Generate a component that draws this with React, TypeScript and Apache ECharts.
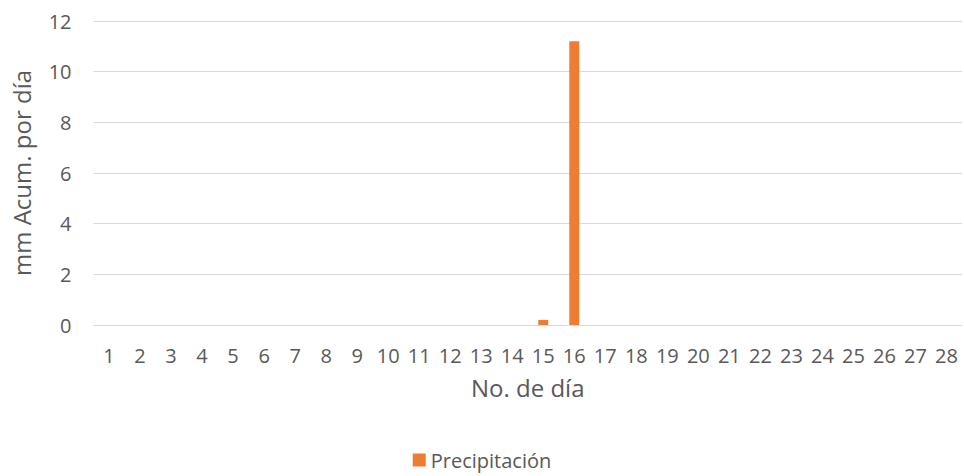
import React, { useEffect, useRef } from "react";
import * as echarts from "echarts";

const days: string[] = Array.from({ length: 28 }, (_, i) => String(i + 1));
const precipitacion: number[] = [
  0, 0, 0, 0, 0, 0, 0, 0, 0, 0, 0, 0, 0, 0, 0.2, 11.2, 0, 0, 0, 0, 0, 0, 0, 0, 0, 0, 0, 0,
];
const seriesName = "Precipitación";
const xAxisTitle = "No. de día";
const yAxisTitle = "mm Acum. por día";

const FONT = "'Open Sans', sans-serif";
const TEXT = "#595959";

export default function App() {
  const ref = useRef<HTMLDivElement>(null);
  useEffect(() => {
    if (!ref.current) return;
    const chart = echarts.init(ref.current, undefined, { renderer: "svg" });
    chart.setOption({
      animation: false,
      textStyle: { fontFamily: FONT },
      grid: { left: 93.5, right: 2, top: 21, bottom: 151, containLabel: false },
      legend: {
        data: [seriesName],
        top: 449,
        padding: 0,
        left: "center",
        itemWidth: 13,
        itemHeight: 13,
        itemGap: 6,
        icon: "rect",
        textStyle: { color: TEXT, fontSize: 20, fontFamily: FONT, lineHeight: 22 },
      },
      xAxis: {
        type: "category",
        data: days,
        name: xAxisTitle,
        nameLocation: "middle",
        nameGap: 50,
        nameTextStyle: { color: TEXT, fontSize: 24, fontFamily: FONT },
        axisLine: { show: true, lineStyle: { color: "#D9D9D9", width: 1 } },
        axisTick: { show: false },
        axisLabel: { color: TEXT, fontSize: 20, margin: 20, interval: 0, fontFamily: FONT },
      },
      yAxis: {
        type: "value",
        min: 0,
        max: 12,
        interval: 2,
        name: yAxisTitle,
        nameLocation: "middle",
        nameGap: 60,
        nameTextStyle: { color: TEXT, fontSize: 24, fontFamily: FONT },
        axisLine: { show: false },
        axisTick: { show: false },
        axisLabel: { color: TEXT, fontSize: 20, margin: 22, fontFamily: FONT },
        splitLine: { lineStyle: { color: "#D9D9D9", width: 1 } },
      },
      series: [
        {
          name: seriesName,
          type: "bar",
          data: precipitacion,
          barWidth: 10,
          itemStyle: { color: "#ED7D31" },
        },
      ],
    });
    return () => chart.dispose();
  }, []);
  return (
    <div
      ref={ref}
      style={{ position: "fixed", left: 0, top: 0, width: 964, height: 476, background: "#fff" }}
    />
  );
}
